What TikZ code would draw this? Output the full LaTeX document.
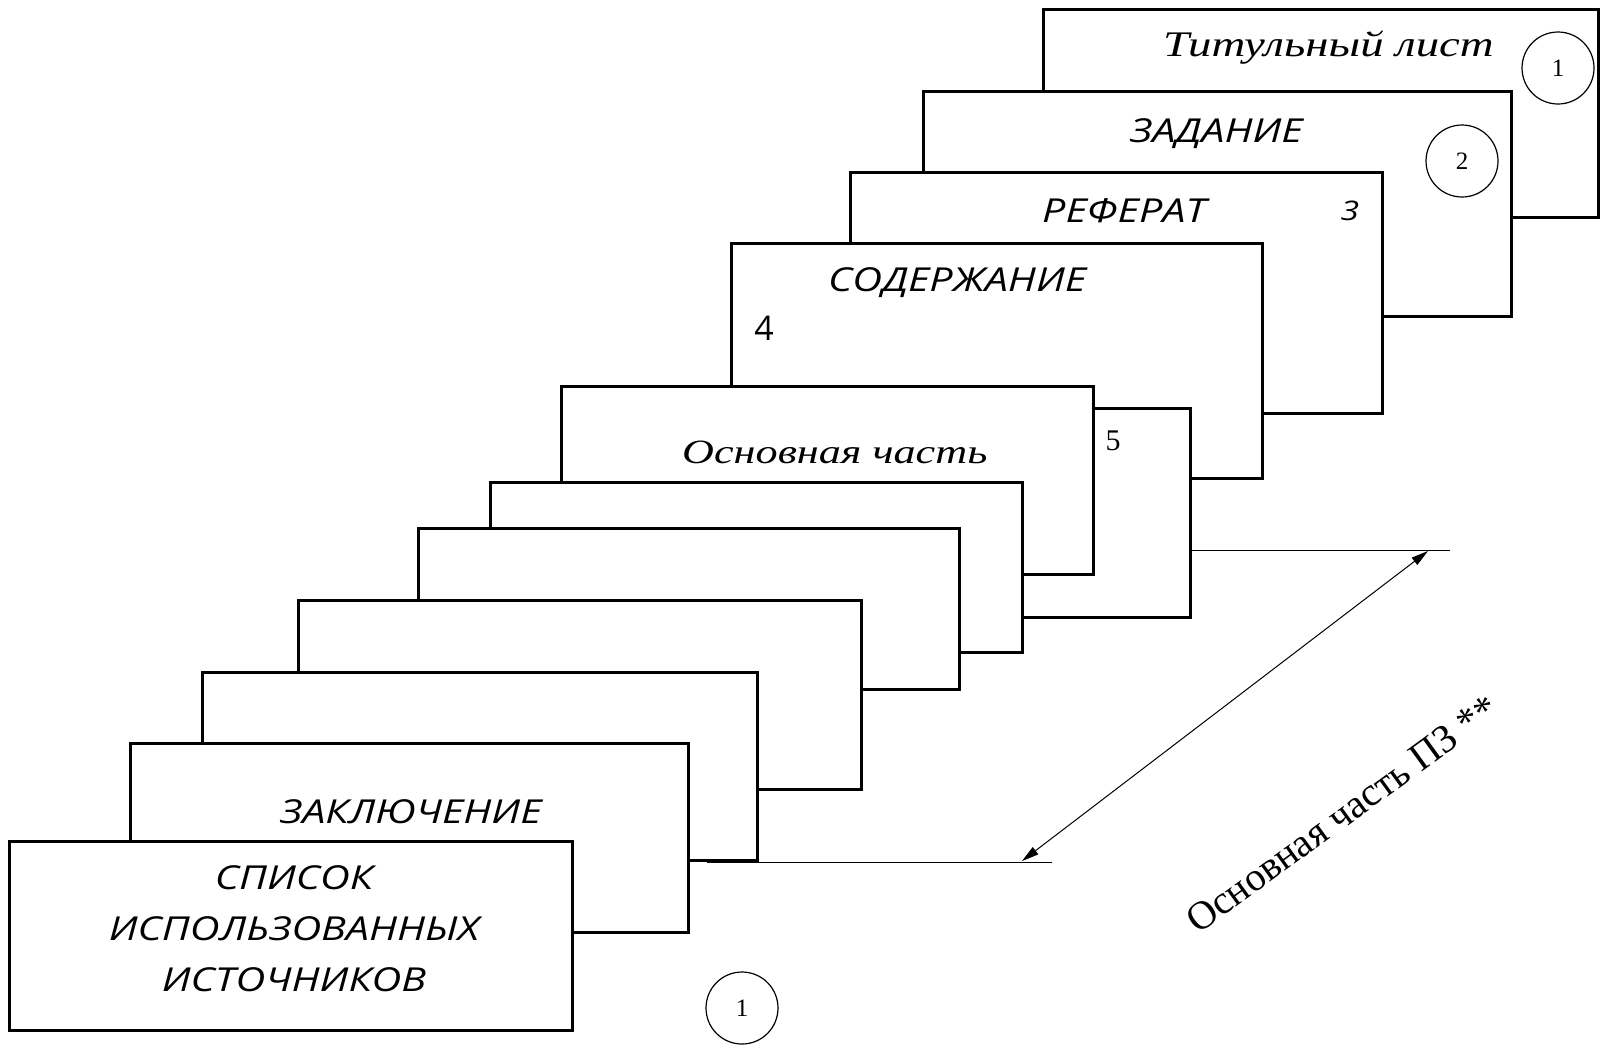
\documentclass[tikz,border=0pt]{standalone}
\usepackage{fontspec}
\setmainfont{Liberation Serif}
\setsansfont{Open Sans}
\newfontfamily\handcaps[FakeStretch=1.25]{Open Sans}
\newfontfamily\handscript[FakeStretch=1.3]{Liberation Serif}
\usetikzlibrary{arrows.meta,positioning}

\begin{document}
\begin{tikzpicture}[x=1pt,y=-1pt,
    sheet/.style={draw,line width=3pt,fill=white,anchor=north west,inner sep=0pt,outer sep=0pt},
    capsLabel/.style={anchor=base west,inner sep=0pt,font=\handcaps\itshape\fontsize{33}{38}\selectfont},
    scriptLabel/.style={anchor=base west,inner sep=0pt,font=\handscript\itshape\fontsize{36}{40}\selectfont},
    pageNum/.style={draw,circle,line width=1.2pt,minimum size=72pt,inner sep=0pt,font=\fontsize{25}{28}\selectfont},
    dimLine/.style={line width=1pt},
    dimArrow/.style={{Triangle[length=17pt,width=9pt]}-{Triangle[length=17pt,width=9pt]},line width=1pt}
  ]
    \useasboundingbox (0,0) rectangle (1602,1045);

    % sheets from back to front
    \node[sheet,minimum width=555pt,minimum height=208pt] (titul) at (1043,9) {};
    \node[scriptLabel] (titulText) at (1163,56) {Титульный лист};
    \node[pageNum] (titulNum) at (1558,68) {1};

    \node[sheet,minimum width=588pt,minimum height=225pt] (zadanie) at (923,91) {};
    \node[capsLabel] (zadanieText) at (1130,142) {ЗАДАНИЕ};
    \node[pageNum] (zadanieNum) at (1462,161) {2};

    \node[sheet,minimum width=532pt,minimum height=241pt] (referat) at (850,172) {};
    \node[capsLabel] (referatText) at (1042,222) {РЕФЕРАТ};
    \node[font=\handcaps\itshape\fontsize{27}{30}\selectfont] (referatNum) at (1350,211) {3};

    \node[sheet,minimum width=531pt,minimum height=235pt] (soderzh) at (731,243) {};
    \node[capsLabel] (soderzhText) at (828,291) {СОДЕРЖАНИЕ};
    \node[font=\sffamily\fontsize{34}{40}\selectfont] (soderzhNum) at (764,328) {4};

    \node[sheet,minimum width=550pt,minimum height=209pt] (osnovaB) at (640,408) {};
    \node[font=\fontsize{30}{32}\selectfont] (osnovaNum) at (1113,441) {5};

    \node[sheet,minimum width=532pt,minimum height=188pt] (osnovaA) at (561,386) {};
    \node[scriptLabel,font=\handscript\itshape\fontsize{34}{40}\selectfont] (osnovaText) at (682,463) {Основная часть};

    \node[sheet,minimum width=532pt,minimum height=170pt] (razdel1) at (490,482) {};
    \node[sheet,minimum width=541pt,minimum height=161pt] (razdel2) at (418,528) {};
    \node[sheet,minimum width=563pt,minimum height=189pt] (razdel3) at (298,600) {};
    \node[sheet,minimum width=555pt,minimum height=188pt] (razdel4) at (202,672) {};

    \node[sheet,minimum width=558pt,minimum height=189pt] (zakl) at (130,743) {};
    \node[capsLabel] (zaklText) at (280,823) {ЗАКЛЮЧЕНИЕ};

    \node[sheet,minimum width=563pt,minimum height=189pt] (spisok) at (9,841) {};
    \node[capsLabel,anchor=center,align=center,font=\handcaps\itshape\fontsize{33}{51}\selectfont] (spisokText) at (294,929) {СПИСОК\\ИСПОЛЬЗОВАННЫХ\\ИСТОЧНИКОВ};
    \node[pageNum] (spisokNum) at (742,1008) {1};

    % dimension of the main part
    \coordinate (dimTopL) at (1190,550);
    \coordinate (dimTopR) at (1450,550);
    \coordinate (dimBotL) at (707,862);
    \coordinate (dimBotR) at (1052,862);
    \coordinate (arrLow) at (1022,861);
    \coordinate (arrHigh) at (1428,551);
    \draw[dimLine] (dimTopL) -- (dimTopR);
    \draw[dimLine] (dimBotL) -- (dimBotR);
    \draw[dimArrow] (arrLow) -- (arrHigh);
    \node[rotate=36,font=\fontsize{40}{44}\selectfont] (dimText) at (1342,814) {Основная часть ПЗ **};
  \end{tikzpicture}
\end{document}
